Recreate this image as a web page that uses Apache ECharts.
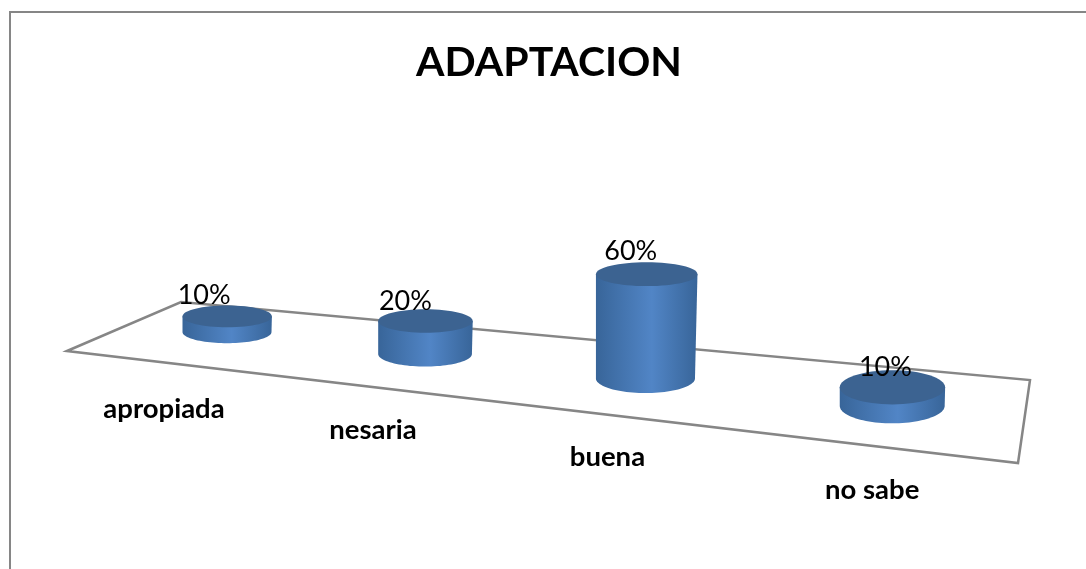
<!DOCTYPE html>
<html>
<head>
<meta charset="utf-8">
<style>
    html, body { margin: 0; padding: 0; background: #fff; }
    #chart { width: 1086px; height: 569px; }
</style>
<script src="https://cdn.jsdelivr.net/npm/echarts@6/dist/echarts.min.js"></script>
</head>
<body>
<div id="chart"></div>
<script>
const categories = ['apropiada', 'nesaria', 'buena', 'no sabe'];
const percents = [10, 20, 60, 10];

// fake 3D camera, fitted by eye to the picture
const PERSP = -0.0507;   // depth scale per category step
const DROP = 4.0;        // floor falls to the right
const BASE_R = 44.5;
const FONT = 'Lato, "Open Sans", sans-serif';
const labelNudge = [[-23, 1], [-20, 3], [-16, 0], [-7, 8]];
const catNudge = [[-63, 77], [-52, 76], [-38, 79], [-20, 84]];

const tilt = (y, u) => 0.25 + 0.0006 * (y - 330) + 0.0045 * u * u;

function cylinder(params, api) {
    const u = api.value(0);
    const v = api.value(1);
    const w = 1 + PERSP * u;
    const base = api.coord([u, 0]);
    const top = api.coord([u, v]);
    const by = (base[1] + DROP * u) / w;
    const ty = (top[1] + DROP * u) / w;
    const bx = base[0] / w;
    const h = by - ty;
    const lean = h * 0.012;
    const rb = BASE_R / w;
    const rt = rb + lean;
    const tx = bx + lean;
    const ryb = rb * tilt(by, u);
    const ryt = rt * tilt(ty, u);

    const pts = [[tx - rt, ty]];
    for (let i = 0; i <= 48; i++) {
        const a = Math.PI - Math.PI * i / 48;
        pts.push([bx + rb * Math.cos(a), by + ryb * Math.sin(a)]);
    }
    pts.push([tx + rt, ty]);

    return {
        type: 'group',
        children: [
            {
                type: 'polygon',
                shape: { points: pts },
                style: {
                    fill: new echarts.graphic.LinearGradient(0, 0, 1, 0, [
                        { offset: 0, color: '#386599' },
                        { offset: 0.55, color: '#5185c6' },
                        { offset: 1, color: '#386599' }
                    ])
                }
            },
            {
                type: 'ellipse',
                shape: { cx: tx, cy: ty, rx: rt, ry: ryt },
                style: { fill: '#3c6391' }
            },
            {
                type: 'text',
                style: {
                    text: v + '%',
                    x: tx + labelNudge[u][0],
                    y: ty - ryt - 11 + labelNudge[u][1],
                    fontSize: 27,
                    fontFamily: FONT,
                    fill: '#000',
                    align: 'center',
                    verticalAlign: 'middle'
                }
            },
            {
                type: 'text',
                style: {
                    text: categories[u],
                    x: bx + catNudge[u][0],
                    y: by + catNudge[u][1],
                    fontSize: 27.5,
                    fontWeight: 'bold',
                    fontFamily: FONT,
                    fill: '#000',
                    align: 'center',
                    verticalAlign: 'middle'
                }
            }
        ]
    };
}

const chart = echarts.init(document.getElementById('chart'), null, { renderer: 'canvas' });
chart.setOption({
    animation: false,
    backgroundColor: '#fff',
    title: {
        text: 'ADAPTACION',
        left: 544,
        top: 37,
        textAlign: 'center',
        textStyle: { fontSize: 41, fontWeight: 'bold', fontFamily: FONT, color: '#000' }
    },
    grid: { left: 138.75, width: 706, top: 176, height: 156 },
    xAxis: { type: 'category', data: categories, show: false },
    yAxis: { type: 'value', min: 0, max: 100, show: false },
    graphic: [
        {
            type: 'polyline',
            z: 0,
            shape: { points: [[10, 569], [10, 12], [1086, 12]] },
            style: { stroke: '#868686', lineWidth: 2, fill: null }
        },
        {
            type: 'polygon',
            z: 0,
            shape: { points: [[67, 351], [181, 302], [1030, 380], [1018, 463]] },
            style: { stroke: '#868686', lineWidth: 2.5, fill: null }
        }
    ],
    series: [{
        type: 'custom',
        coordinateSystem: 'cartesian2d',
        clip: false,
        encode: { x: 0, y: 1 },
        data: percents.map((v, i) => [i, v]),
        renderItem: cylinder
    }]
});
</script>
</body>
</html>
